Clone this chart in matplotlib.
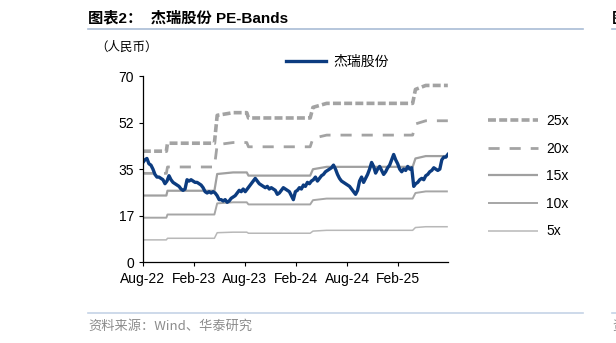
import matplotlib
matplotlib.use("Agg")
import matplotlib.pyplot as plt
import matplotlib.dates as mdates
from matplotlib.lines import Line2D
import numpy as np
import pandas as pd

plt.rcParams['font.family'] = ['Liberation Sans', 'Noto Sans CJK SC', 'DejaVu Sans']

# share price, roughly weekly readings
price = [37.5, 38.5, 39.0, 37.0, 36.5, 35.0, 33.0, 32.0, 32.0, 31.5,
         31.0, 29.5, 30.5, 32.5, 31.0, 30.0, 29.5, 29.0, 28.5, 27.5,
         27.0, 27.5, 31.0, 30.5, 31.0, 30.5, 30.0, 30.0, 29.5, 29.0,
         28.0, 26.5, 26.0, 26.5, 26.0, 26.5, 26.0, 25.0, 23.5, 23.5,
         23.0, 23.5, 22.5, 23.0, 24.0, 24.5, 25.0, 26.0, 27.0, 26.5,
         27.5, 26.5, 27.5, 28.5, 29.5, 30.5, 31.5, 30.5, 29.5, 29.0,
         28.5, 28.0, 28.5, 27.5, 28.0, 27.5, 27.0, 25.5, 26.0, 27.0,
         28.0, 27.5, 27.0, 26.5, 25.0, 23.5, 26.5, 27.0, 28.0, 27.5,
         29.0, 28.5, 30.0, 29.5, 30.5, 31.0, 32.0, 30.5, 31.5, 32.5,
         33.0, 34.0, 34.5, 35.0, 35.5, 36.5, 35.0, 33.0, 31.5, 30.5,
         30.0, 29.5, 29.0, 28.5, 27.5, 26.5, 25.5, 27.0, 30.5, 32.0,
         30.0, 31.5, 33.0, 35.0, 37.5, 36.0, 33.5, 35.0, 36.0, 34.5,
         33.0, 34.0, 35.5, 36.5, 38.5, 40.5, 38.5, 37.0, 35.0, 34.0,
         35.0, 34.5, 36.0, 35.0, 35.5, 28.5, 29.5, 30.0, 31.0, 31.5,
         31.0, 32.5, 33.0, 34.0, 34.5, 35.5, 35.0, 34.5, 35.0, 38.5,
         39.5, 39.5, 40.5]
dates = pd.date_range('2022-08-01', '2025-07-28', periods=len(price))

# trailing EPS step points behind the PE bands
eps_dates = pd.to_datetime(['2022-08-01', '2022-10-24', '2022-10-28', '2023-04-14',
                            '2023-04-24', '2023-06-20', '2023-08-08', '2023-08-14',
                            '2024-03-22', '2024-04-01', '2024-05-20', '2025-03-24',
                            '2025-04-03', '2025-05-10', '2025-07-28'])
eps_vals = np.array([1.67, 1.67, 1.79, 1.79, 2.21, 2.25, 2.25, 2.17, 2.17,
                     2.33, 2.39, 2.39, 2.60, 2.66, 2.66])

multiples = [25, 20, 15, 10, 5]
band_labels = ['25x', '20x', '15x', '10x', '5x']

xtick_dates = pd.to_datetime(['2022-08-01', '2023-02-01', '2023-08-01',
                              '2024-02-01', '2024-08-01', '2025-02-01'])
xtick_labels = ['Aug-22', 'Feb-23', 'Aug-23', 'Feb-24', 'Aug-24', 'Feb-25']
ytick_vals = [0, 17.5, 35, 52.5, 70]
ytick_labels = ['0', '17', '35', '52', '70']

fig = plt.figure(figsize=(6.16, 3.43), dpi=100)
ax = fig.add_axes([0.232, 0.236, 0.495, 0.542])

gray = '#a3a3a3'
styles = {
    25: dict(color=gray, lw=2.6, linestyle=(0, (2.2, 0.9))),
    20: dict(color=gray, lw=2.0, linestyle=(0, (4.0, 3.6))),
    15: dict(color='#a0a0a0', lw=1.6, linestyle='-'),
    10: dict(color='#a6a6a6', lw=1.4, linestyle='-'),
    5: dict(color='#b8b8b8', lw=1.1, linestyle='-'),
}
handles = []
for m, lab in zip(multiples, band_labels):
    l, = ax.plot(eps_dates, eps_vals * m, solid_capstyle='butt',
                 dash_capstyle='butt', **styles[m])
    handles.append(l)

pl, = ax.plot(dates, price, color='#0c3c80', lw=2.4, solid_joinstyle='round')

ax.set_xlim(pd.Timestamp('2022-08-01'), pd.Timestamp('2025-07-28'))
ax.set_ylim(0, 70)
ax.set_xticks(xtick_dates)
ax.set_xticklabels(xtick_labels, fontsize=10)
ax.set_yticks(ytick_vals)
ax.set_yticklabels(ytick_labels, fontsize=10)
ax.tick_params(axis='both', direction='out', length=3, width=0.8, colors='black')
ax.tick_params(axis='x', pad=4)
for s in ['top', 'right']:
    ax.spines[s].set_visible(False)
for s in ['left', 'bottom']:
    ax.spines[s].set_linewidth(0.9)

leg1 = ax.legend([pl], ['杰瑞股份'], loc='center left', bbox_to_anchor=(0.428, 1.078),
                 frameon=False, handlelength=2.9, handletextpad=0.55,
                 prop={'family': ['Noto Sans CJK SC'], 'size': 10})
ax.add_artist(leg1)
ax.legend(handles, band_labels, loc='upper left', bbox_to_anchor=(1.115, 0.826),
          frameon=False, handlelength=3.6, handletextpad=0.55, labelspacing=0.98,
          fontsize=10, borderaxespad=0)

fig.text(88 / 616, 1 - 18 / 343, '图表2：  杰瑞股份 PE-Bands', fontsize=11,
         fontweight='bold', va='center', ha='left')
fig.text(612 / 616, 1 - 18 / 343, '图', fontsize=11, fontweight='bold',
         va='center', ha='left', family=['Noto Sans CJK SC'])
fig.add_artist(Line2D([88 / 616, 583 / 616], [1 - 29 / 343] * 2,
                      color='#a9bcd6', lw=1.2))
fig.add_artist(Line2D([612 / 616, 1.0], [1 - 29 / 343] * 2,
                      color='#a9bcd6', lw=1.2))
fig.text(95 / 616, 1 - 47 / 343, '（人民币）', fontsize=9, va='center', ha='left',
         family=['Noto Sans CJK SC'])

fig.add_artist(Line2D([88 / 616, 583 / 616], [1 - 313 / 343] * 2,
                      color='#c5d3e6', lw=1.2))
fig.add_artist(Line2D([612 / 616, 1.0], [1 - 313 / 343] * 2,
                      color='#c5d3e6', lw=1.2))
fig.text(88 / 616, 1 - 326 / 343, '资料来源：Wind、华泰研究', fontsize=9.5,
         color='#8c8c8c', va='center', ha='left',
         family=['Noto Sans CJK SC', 'Liberation Sans'])
fig.text(612 / 616, 1 - 326 / 343, '资', fontsize=9.5, color='#8c8c8c',
         va='center', ha='left', family=['Noto Sans CJK SC'])

fig.savefig('out.png', dpi=100)
